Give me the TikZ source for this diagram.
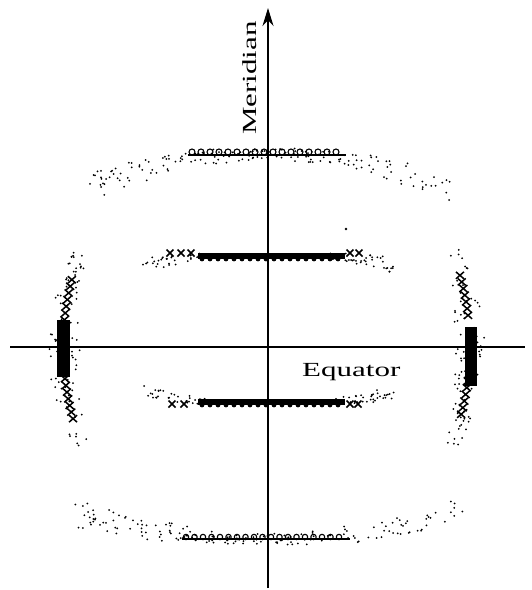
\documentclass[tikz,border=0pt]{standalone}
\usepackage{fontspec}
\setmainfont{Liberation Serif}
\usepackage{tikz}
\usetikzlibrary{arrows.meta}

\tikzset{
  axis/.style={line width=1.6pt},
  speck/.style={fill=black},
  loopline/.style={line width=1.1pt},
  crossmark/.style={line width=1.5pt},
  axislabel/.style={font=\fontsize{20}{22}\selectfont, inner sep=0pt},
}

\begin{document}
\begin{tikzpicture}[x=1pt,y=-1pt]
\useasboundingbox (0,0) rectangle (532,590);
\pgfmathsetseed{42}

% Top layer line (stipple and loops)
\foreach \i in {1,...,170}{
  \pgfmathsetmacro{\u}{rand*1.82}
  \pgfmathsetmacro{\dy}{10.5*\u*\u+rand*(5+abs(\u)*5)}
  \fill[speck] (268+100*\u,154+\dy) circle (1pt);
}
\draw[loopline] (188,155) -- (346,155);
\foreach \x in {192,201,...,342}
  \draw[loopline] (\x,152) circle (3pt);

% Second layer line (dark streak)
\foreach \i in {1,...,70}{
  \pgfmathsetmacro{\u}{(2*(rnd<0.5)-1)*(0.62+rnd*0.64)}
  \pgfmathsetmacro{\dy}{8*\u*\u-3+rand*(3+(abs(\u)-0.62)*8)}
  \fill[speck] (268+100*\u,256+\dy) circle (1pt);
}
\draw[line width=6pt] (198,256) -- (345,256);
\foreach \x in {202,210,...,342}
  \fill (\x,259) circle (2.4pt);
\foreach \x in {170,181,191,350,359}
  \draw[crossmark] (\x,253) +(-3.5,-3.5) -- +(3.5,3.5) +(-3.5,3.5) -- +(3.5,-3.5);
\fill[speck] (346,229) circle (1.3pt);

% Third layer line (dark streak)
\foreach \i in {1,...,70}{
  \pgfmathsetmacro{\u}{(2*(rnd<0.5)-1)*(0.62+rnd*0.64)}
  \pgfmathsetmacro{\dy}{-8*\u*\u+3+rand*(3+(abs(\u)-0.62)*8)}
  \fill[speck] (268+100*\u,402+\dy) circle (1pt);
}
\draw[line width=6pt] (198,402) -- (345,402);
\foreach \x in {202,210,...,342}
  \fill (\x,405) circle (2.4pt);
\foreach \x in {172,184,350,358}
  \draw[crossmark] (\x,404) +(-3.5,-3.5) -- +(3.5,3.5) +(-3.5,3.5) -- +(3.5,-3.5);

% Bottom layer line (stipple and loops)
\foreach \i in {1,...,170}{
  \pgfmathsetmacro{\u}{rand*1.95}
  \pgfmathsetmacro{\dy}{-7*\u*\u+rand*(5+abs(\u)*5)}
  \fill[speck] (268+100*\u,539+\dy) circle (1pt);
}
\draw[loopline] (182,539) -- (350,539);
\foreach \x in {186,194.5,...,346}
  \draw[loopline] (\x,537) circle (2.7pt);

% Equatorial reflections
\foreach \cx/\base in {323/180, 210/0}{
  \foreach \i in {1,...,90}{
    \pgfmathsetmacro{\a}{rand*22}
    \pgfmathsetmacro{\r}{260+rand*(17-abs(\a)*0.45)}
    \fill[speck] (\cx,347) ++(\base+\a:\r) circle (1pt);
  }
  \foreach \a in {-16,-14.5,...,-6,6,7.5,...,16}
    \draw[crossmark] (\cx,347) ++(\base+\a:260) +(-4,-3.5) -- +(4,3.5) +(-4,3.5) -- +(4,-3.5);
}
\fill (57,320) rectangle (70,377);
\fill (465,327) rectangle (477,386);

% Axes
\draw[axis] (10,347) -- (525,347);
\draw[axis,-{Stealth[length=18pt,width=11pt]}] (268,588) -- (268,8);

% Labels
\node[axislabel, rotate=90] (meridian) at (250,78) {\scalebox{1.55}[1]{Meridian}};
\node[axislabel, anchor=base west] (equator) at (302,376) {\scalebox{1.55}[1]{Equator}};
\end{tikzpicture}
\end{document}
